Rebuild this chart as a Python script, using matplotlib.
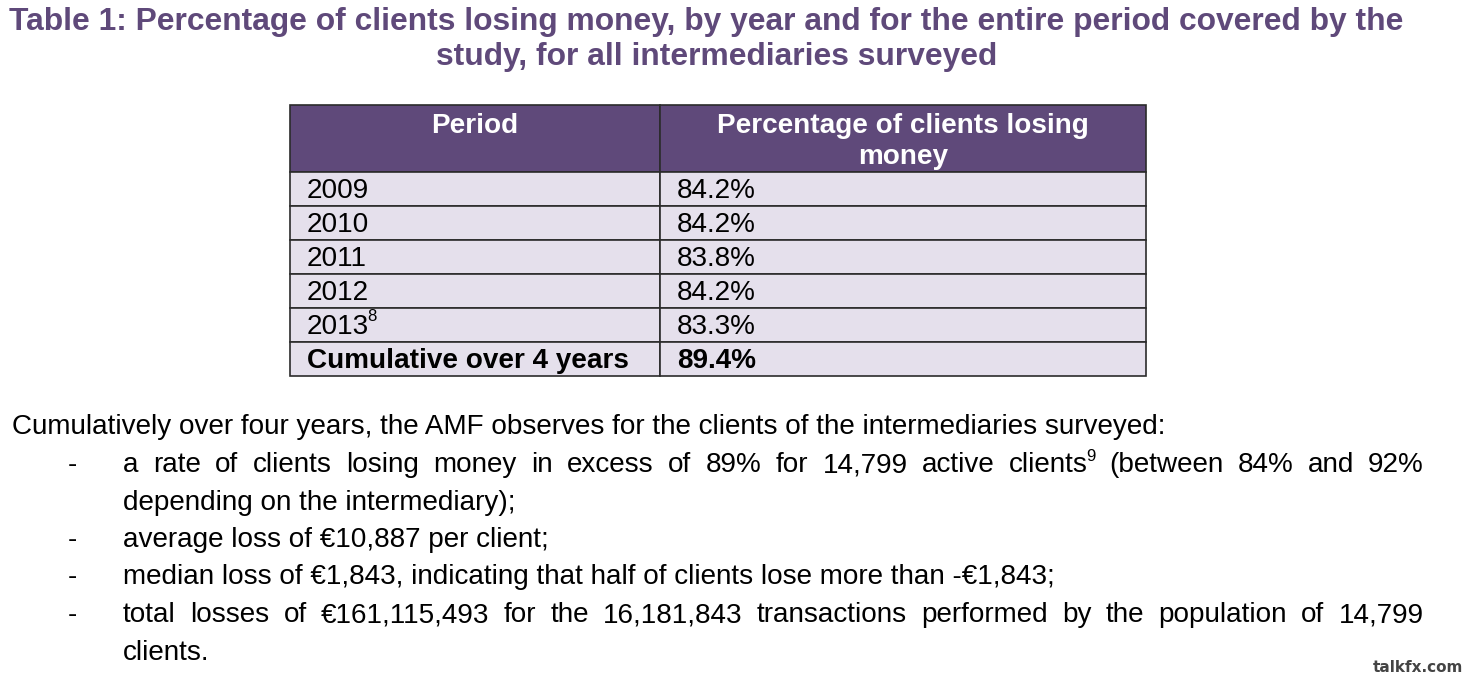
import matplotlib
matplotlib.use("Agg")
import matplotlib.pyplot as plt
from matplotlib.patches import Rectangle

plt.rcParams['font.family'] = ['Liberation Sans', 'DejaVu Sans']

# ---- data ----
periods = ["2009", "2010", "2011", "2012", "2013", "Cumulative over 4 years"]
period_notes = ["", "", "", "", "8", ""]
pct_losing = [84.2, 84.2, 83.8, 84.2, 83.3, 89.4]
col_headers = ["Period", ["Percentage of clients losing", "money"]]

title_lines = ["Table 1: Percentage of clients losing money, by year and for the entire period covered by the",
               "study, for all intermediaries surveyed"]
intro = "Cumulatively over four years, the AMF observes for the clients of the intermediaries surveyed:"
# each bullet: list of (line_text, justified, superscripts {word_index: sup})
bullets = [
    [("a rate of clients losing money in excess of 89% for 14,799 active clients (between 84% and 92%", True, {13: "9"}),
     ("depending on the intermediary);", False, {})],
    [("average loss of \u20ac10,887 per client;", False, {})],
    [("median loss of \u20ac1,843, indicating that half of clients lose more than -\u20ac1,843;", False, {})],
    [("total losses of \u20ac161,115,493 for the 16,181,843 transactions performed by the population of 14,799", True, {}),
     ("clients.", False, {})],
]
watermark = "talkfx.com"

PURPLE = "#5F497A"
LAVENDER = "#E5E0EC"
EDGE = "#2b2b2b"

W, H = 1469, 680
fig = plt.figure(figsize=(W / 100, H / 100), dpi=100)
ax = fig.add_axes([0, 0, 1, 1])
ax.set_xlim(0, W)
ax.set_ylim(H, 0)
ax.axis('off')
fig.canvas.draw()
renderer = fig.canvas.get_renderer()


def width_of(s, size, weight='normal'):
    t = ax.text(0, 0, s, fontsize=size, fontweight=weight)
    w = t.get_window_extent(renderer).width
    t.remove()
    return w


def fit_size(s, target, weight='normal'):
    return 10 * target / width_of(s, 10, weight)


# ---- title ----
tsize = fit_size(title_lines[0], 1396, 'bold')
for i, (line, cx) in enumerate(zip(title_lines, (706, 717))):
    ax.text(cx, 30 + 35 * i, line, fontsize=tsize, fontweight='bold', color=PURPLE,
            ha='center', va='baseline')

# ---- table ----
x0, xm, x1 = 290, 660, 1146
hdr_top, hdr_bot, row_h = 105, 172, 34
bsize = fit_size(intro, 1160)
tbl_size = fit_size("Cumulative over 4 years", 321, 'bold')

ax.add_patch(Rectangle((x0, hdr_top), xm - x0, hdr_bot - hdr_top, facecolor=PURPLE, edgecolor=EDGE, lw=1.2))
ax.add_patch(Rectangle((xm, hdr_top), x1 - xm, hdr_bot - hdr_top, facecolor=PURPLE, edgecolor=EDGE, lw=1.2))
ax.text((x0 + xm) / 2, 133, col_headers[0], fontsize=tbl_size, fontweight='bold', color='white',
        ha='center', va='baseline')
for j, l in enumerate(col_headers[1]):
    ax.text((xm + x1) / 2, 133 + 31 * j, l, fontsize=tbl_size, fontweight='bold', color='white',
            ha='center', va='baseline')

for i, (p, note, v) in enumerate(zip(periods, period_notes, pct_losing)):
    top = hdr_bot + row_h * i
    for a, b in ((x0, xm), (xm, x1)):
        ax.add_patch(Rectangle((a, top), b - a, row_h, facecolor=LAVENDER, edgecolor=EDGE, lw=1.2))
    wt = 'bold' if i == len(periods) - 1 else 'normal'
    t = ax.text(307, top + 26, p, fontsize=tbl_size, fontweight=wt, ha='left', va='baseline', color='black')
    if note:
        w = t.get_window_extent(renderer).width
        ax.text(307 + w - 2, top + 13, note, fontsize=tbl_size * 0.6, ha='left', va='baseline', color='black')
    ax.text(677, top + 26, f"{v:.1f}%", fontsize=tbl_size, fontweight=wt, ha='left', va='baseline', color='black')

# ---- body text ----
ax.text(12, 434, intro, fontsize=bsize, ha='left', va='baseline', color='black')

lx0, lx1 = 123, 1424
y = 472
step = 37.5
for bullet in bullets:
    ax.text(68, y, "-", fontsize=bsize, ha='left', va='baseline', color='black')
    for text, just, sups in bullet:
        words = text.split(" ")
        if not just:
            ax.text(lx0, y, text, fontsize=bsize, ha='left', va='baseline', color='black')
        else:
            widths = []
            for k, wd in enumerate(words):
                ww = width_of(wd, bsize)
                if k in sups:
                    ww += width_of(sups[k], bsize * 0.6) - 3
                widths.append(ww)
            gap = (lx1 - lx0 - sum(widths)) / (len(words) - 1)
            x = lx0
            for k, wd in enumerate(words):
                ax.text(x, y, wd, fontsize=bsize, ha='left', va='baseline', color='black')
                if k in sups:
                    ax.text(x + width_of(wd, bsize) - 2, y - 11, sups[k], fontsize=bsize * 0.6,
                            ha='left', va='baseline', color='black')
                x += widths[k] + gap
        y += step

ax.text(1463, 672, watermark, fontsize=11, fontweight='bold', color='#444444', ha='right', va='baseline',
        family=['DejaVu Sans'])

fig.savefig("out.png", dpi=100, facecolor='white')
